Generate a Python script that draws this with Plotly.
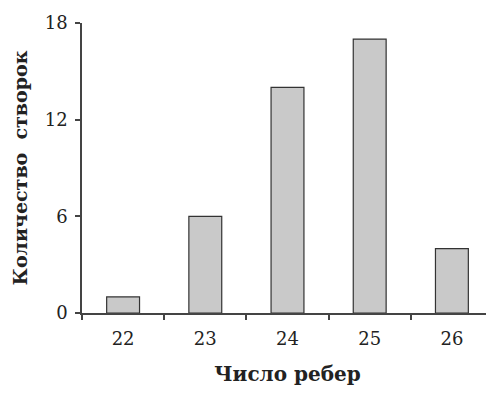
import plotly.graph_objects as go

categories = ["22", "23", "24", "25", "26"]
counts = [1, 6, 14, 17, 4]
y_ticks = [0, 6, 12, 18]
x_title = "Число ребер"
y_title = "Количество  створок"

fig = go.Figure(go.Bar(
    x=categories, y=counts,
    marker=dict(color="#c9c9c9", line=dict(color="#333333", width=1.2)),
    width=0.4,
))

font_family = "DejaVu Serif"
fig.update_layout(
    width=486, height=386,
    margin=dict(l=74, r=1, t=15, b=81),
    plot_bgcolor="white", paper_bgcolor="white",
    showlegend=False,
    font=dict(family=font_family, color="#222222", size=18),
)
fig.update_xaxes(
    type="category",
    showline=True, linecolor="#444444", linewidth=1.5,
    ticks="outside", tickson="boundaries", ticklen=5, tickcolor="#444444", tickwidth=1.5,
    tickfont=dict(size=18, family=font_family, color="#222222"),
    ticklabelstandoff=9,
    title=dict(text="<b>" + x_title + "</b>", font=dict(size=20, family=font_family, color="#222222"), standoff=19),
    showgrid=False,
)
fig.update_yaxes(
    range=[0, 18], tickvals=y_ticks,
    showline=True, linecolor="#444444", linewidth=1.5,
    ticks="outside", ticklen=5, tickcolor="#444444", tickwidth=1.5,
    tickfont=dict(size=18, family=font_family, color="#222222"),
    ticklabelstandoff=4,
    title=dict(text="<b>" + y_title + "</b>", font=dict(size=19, family=font_family, color="#222222"), standoff=12),
    showgrid=False, zeroline=False,
)
fig.write_html("out.html")
